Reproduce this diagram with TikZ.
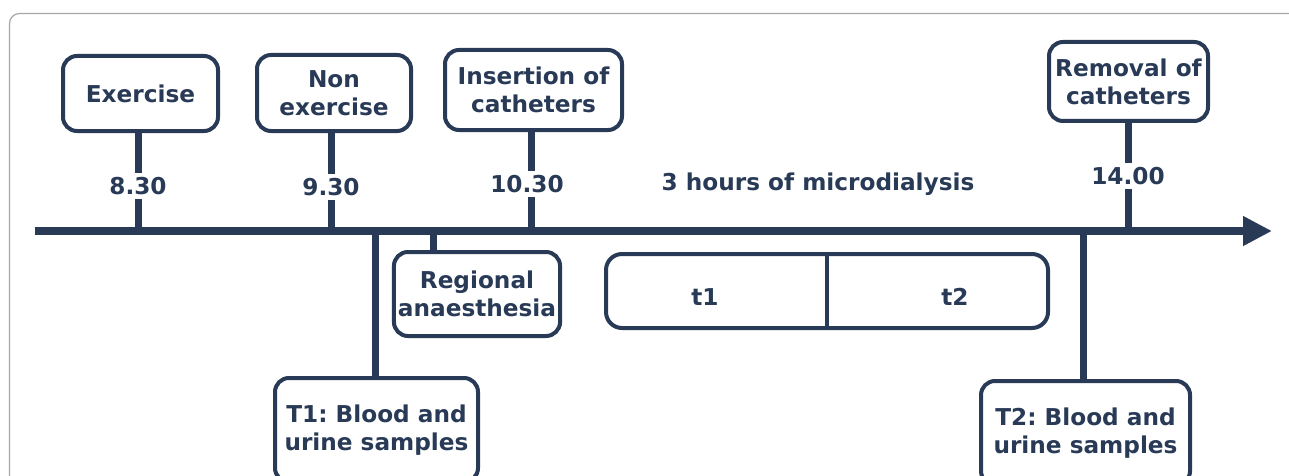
\documentclass[tikz,border=0pt]{standalone}
\usepackage{fontspec}
\setmainfont{DejaVu Sans}
\usepackage{tikz}
\usetikzlibrary{arrows.meta,positioning}
\definecolor{navy}{RGB}{40,58,86}
\frenchspacing

\begin{document}
\begin{tikzpicture}[
    x=0.5pt, y=-0.5pt,
    font=\bfseries\fontsize{11.6}{14}\selectfont,
    text=navy,
    box/.style={draw=navy, line width=2pt, rounded corners=7pt, align=center, fill=white, inner sep=2pt},
    tick/.style={draw=navy, line width=3.5pt},
    time/.style={fill=white, inner sep=2pt},
    axis/.style={draw=navy, line width=3.6pt, -{Triangle[length=14.5pt,width=14pt]}}
  ]
    \useasboundingbox (0,0) rectangle (1289,476);
    \draw[gray!70, line width=0.6pt, rounded corners=5pt] (9.5,13.5) rectangle (1310,500);
    % timeline
    \coordinate (start) at (35,231);
    \coordinate (end) at (1272,231);
    \draw[axis] (start) -- (end);
    % events above the line
    \node[box, minimum width=77.5pt, minimum height=37.5pt] (exer) at (140.5,93.5) {Exercise};
    \node[box, minimum width=77pt, minimum height=38pt] (nonex) at (334,93) {Non\\exercise};
    \node[box, minimum width=88.5pt, minimum height=40pt] (ins) at (533.5,90) {Insertion of\\catheters};
    \node[box, minimum width=79.5pt, minimum height=39.5pt] (rem) at (1128.5,81.5) {Removal of\\catheters};
    % events below the line
    \node[box, minimum width=83pt, minimum height=42pt] (reg) at (477,294) {Regional\\anaesthesia};
    \node[box, minimum width=101.5pt, minimum height=52pt] (tone) at (376.5,430) {T1: Blood and\\urine samples};
    \node[box, minimum width=104.5pt, minimum height=52pt] (ttwo) at (1085.5,433) {T2: Blood and\\urine samples};
    \node[box, minimum width=221pt, minimum height=37pt, rounded corners=8pt] (micro) at (827,291) {};
    \draw[navy, line width=2pt] (micro.north) -- (micro.south);
    \node (tA) at (705,297) {t1};
    \node (tB) at (955,297) {t2};
    % ticks
    \foreach \n/\x in {exer/138,nonex/331,ins/531,rem/1128}
      \draw[tick] (\n.south -| \x,0) -- (\x,231);
    \foreach \n/\x in {tone/375,reg/433,ttwo/1083}
      \draw[tick] (\x,231) -- (\n.north -| \x,0);
    % times
    \node[time] (h830) at (138,186) {8.30};
    \node[time] (h930) at (331,187) {9.30};
    \node[time] (h1030) at (527,184) {10.30};
    \node[time] (h1400) at (1128,176) {14.00};
    \node (micro-label) at (818,184) {3 hours of microdialysis};
  \end{tikzpicture}
\end{document}
